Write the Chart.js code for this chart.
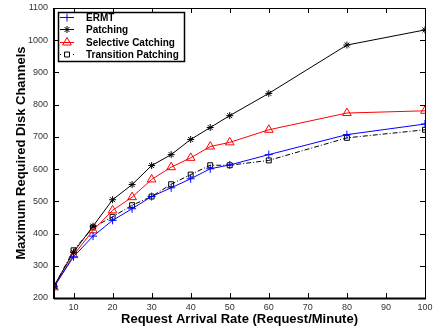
<!DOCTYPE html>
<html><head><meta charset="utf-8">
<script src="https://cdn.jsdelivr.net/npm/chart.js@4/dist/chart.umd.min.js"></script>
<style>html,body{margin:0;padding:0;background:#fff}#wrap{width:434px;height:331px}</style>
</head><body><div id="wrap"><canvas id="c" width="434" height="331"></canvas></div>
<script>
const rates = [5,10,15,20,25,30,35,40,45,50,60,80,100];
const ermt = [235,328,392,441,477,515,542,570,601,613,645,707,740];
const patching = [237,342,423,505,552,611,645,692,729,766,835,985,1032];
const selective = [233,333,410,472,513,568,606,635,670,683,722,774,781];
const transition = [236,348,419,452,488,515,553,583,612,612,627,697,722];
const xTicks = [10,20,30,40,50,60,70,80,90,100];
const yTicks = [200,300,400,500,600,700,800,900,1000,1100];
const seriesNames = ['ERMT','Patching','Selective Catching','Transition Patching'];

const FONT = 'Liberation Sans, Arial, Helvetica, sans-serif';
const toXY = arr => arr.map((v,i)=>({x:rates[i], y:v}));

const frame = {
  id:'frame',
  afterDraw(chart){
    const {ctx, chartArea:a, scales:{x,y}} = chart;
    ctx.save();
    ctx.strokeStyle='#000';
    ctx.lineWidth=1;
    ctx.beginPath();
    const L=5;
    xTicks.forEach(t=>{const px=Math.round(x.getPixelForValue(t))+0.5;
      ctx.moveTo(px,a.bottom);ctx.lineTo(px,a.bottom-L);
      ctx.moveTo(px,a.top);ctx.lineTo(px,a.top+L);});
    yTicks.forEach(t=>{const py=Math.round(y.getPixelForValue(t))+0.5;
      ctx.moveTo(a.left,py);ctx.lineTo(a.left+L,py);
      ctx.moveTo(a.right,py);ctx.lineTo(a.right-L,py);});
    ctx.stroke();
    ctx.lineWidth=1;
    ctx.strokeRect(Math.round(a.left)+0.5,Math.round(a.top)+0.5,Math.round(a.right-a.left),Math.round(a.bottom-a.top));
    ctx.lineWidth=2;
    ctx.beginPath();
    ctx.moveTo(a.left,a.bottom+0.5);ctx.lineTo(a.right+1,a.bottom+0.5);
    ctx.moveTo(a.left,a.top);ctx.lineTo(a.left,a.bottom+1);
    ctx.stroke();
    // legend
    const lx=a.left+4, ly=a.top+4, lw=126, lh=49;
    ctx.fillStyle='#fff';
    ctx.fillRect(lx,ly,lw,lh);
    ctx.lineWidth=1.5;
    ctx.strokeRect(lx+0.5,ly+0.5,lw,lh);
    ctx.font='bold 10px '+FONT;
    ctx.textBaseline='middle';
    chart.data.datasets.forEach((ds,i)=>{
      const cy=Math.round(ly+5+i*12.3)+0.5;
      ctx.strokeStyle=ds.borderColor;
      ctx.lineWidth=1;
      ctx.setLineDash(ds.borderDash||[]);
      if(i<3){ctx.beginPath();ctx.moveTo(lx+2,cy);ctx.lineTo(lx+16,cy);ctx.stroke();}
      else {ctx.beginPath();ctx.moveTo(lx+2,cy);ctx.lineTo(lx+3,cy);ctx.moveTo(lx+15,cy);ctx.lineTo(lx+16,cy);ctx.stroke();}
      ctx.setLineDash([]);
      ctx.fillStyle=ds.pointBackgroundColor;
      ctx.strokeStyle=ds.pointBorderColor;
      Chart.helpers.drawPoint(ctx,{pointStyle:ds.pointStyle,radius:ds.pointRadius,borderWidth:1,rotation:0},lx+9,cy);
      ctx.fillStyle='#000';
      ctx.fillText(ds.label,lx+28,cy+0.5);
    });
    ctx.restore();
  }
};

const plain = v => String(v);
const common = {borderWidth:1, pointBorderWidth:1, tension:0, fill:false};
new Chart(document.getElementById('c'),{
  type:'line',
  data:{datasets:[
    {...common,label:seriesNames[0],data:toXY(ermt),borderColor:'#0000ff',pointBorderColor:'#0000ff',pointBackgroundColor:'#0000ff',pointStyle:'cross',pointRadius:4},
    {...common,label:seriesNames[1],data:toXY(patching),borderColor:'#000',pointBorderColor:'#000',pointBackgroundColor:'#000',pointStyle:'star',pointRadius:3.5},
    {...common,label:seriesNames[2],data:toXY(selective),borderColor:'#ff0000',pointBorderColor:'#ff0000',pointBackgroundColor:'rgba(0,0,0,0)',pointStyle:'triangle',pointRadius:5},
    {...common,label:seriesNames[3],data:toXY(transition),borderColor:'#000',borderDash:[5,2,1,2],pointBorderColor:'#000',pointBackgroundColor:'rgba(0,0,0,0)',pointStyle:'rect',pointRadius:3.5}
  ]},
  options:{
    responsive:false, animation:false, devicePixelRatio:1,
    layout:{padding:{top:8,right:9,left:0,bottom:0}},
    plugins:{legend:{display:false},tooltip:{enabled:false}},
    scales:{
      x:{type:'linear',min:5,max:100,
        afterBuildTicks:s=>{s.ticks=xTicks.map(v=>({value:v}));},
        afterFit:s=>{s.height=33;s.paddingRight=0;s.paddingLeft=0;},
        grid:{display:false,drawTicks:false},border:{display:false},
        ticks:{color:'#333',font:{family:FONT,size:9},padding:4,maxRotation:0,autoSkip:false,callback:plain},
        title:{display:true,text:'Request Arrival Rate (Request/Minute)',color:'#000',font:{family:FONT,size:13,weight:'bold'},padding:{top:0,bottom:4}}
      },
      y:{type:'linear',min:200,max:1100,
        afterBuildTicks:s=>{s.ticks=yTicks.map(v=>({value:v}));},
        afterFit:s=>{s.width=54;s.paddingTop=0;s.paddingBottom=0;},
        grid:{display:false,drawTicks:false},border:{display:false},
        ticks:{color:'#333',font:{family:FONT,size:9},padding:6,autoSkip:false,callback:plain},
        title:{display:true,text:'Maximum Required Disk Channels',color:'#000',font:{family:FONT,size:13,weight:'bold'},padding:{top:14,bottom:0}}
      }
    }
  },
  plugins:[frame]
});
</script></body></html>
